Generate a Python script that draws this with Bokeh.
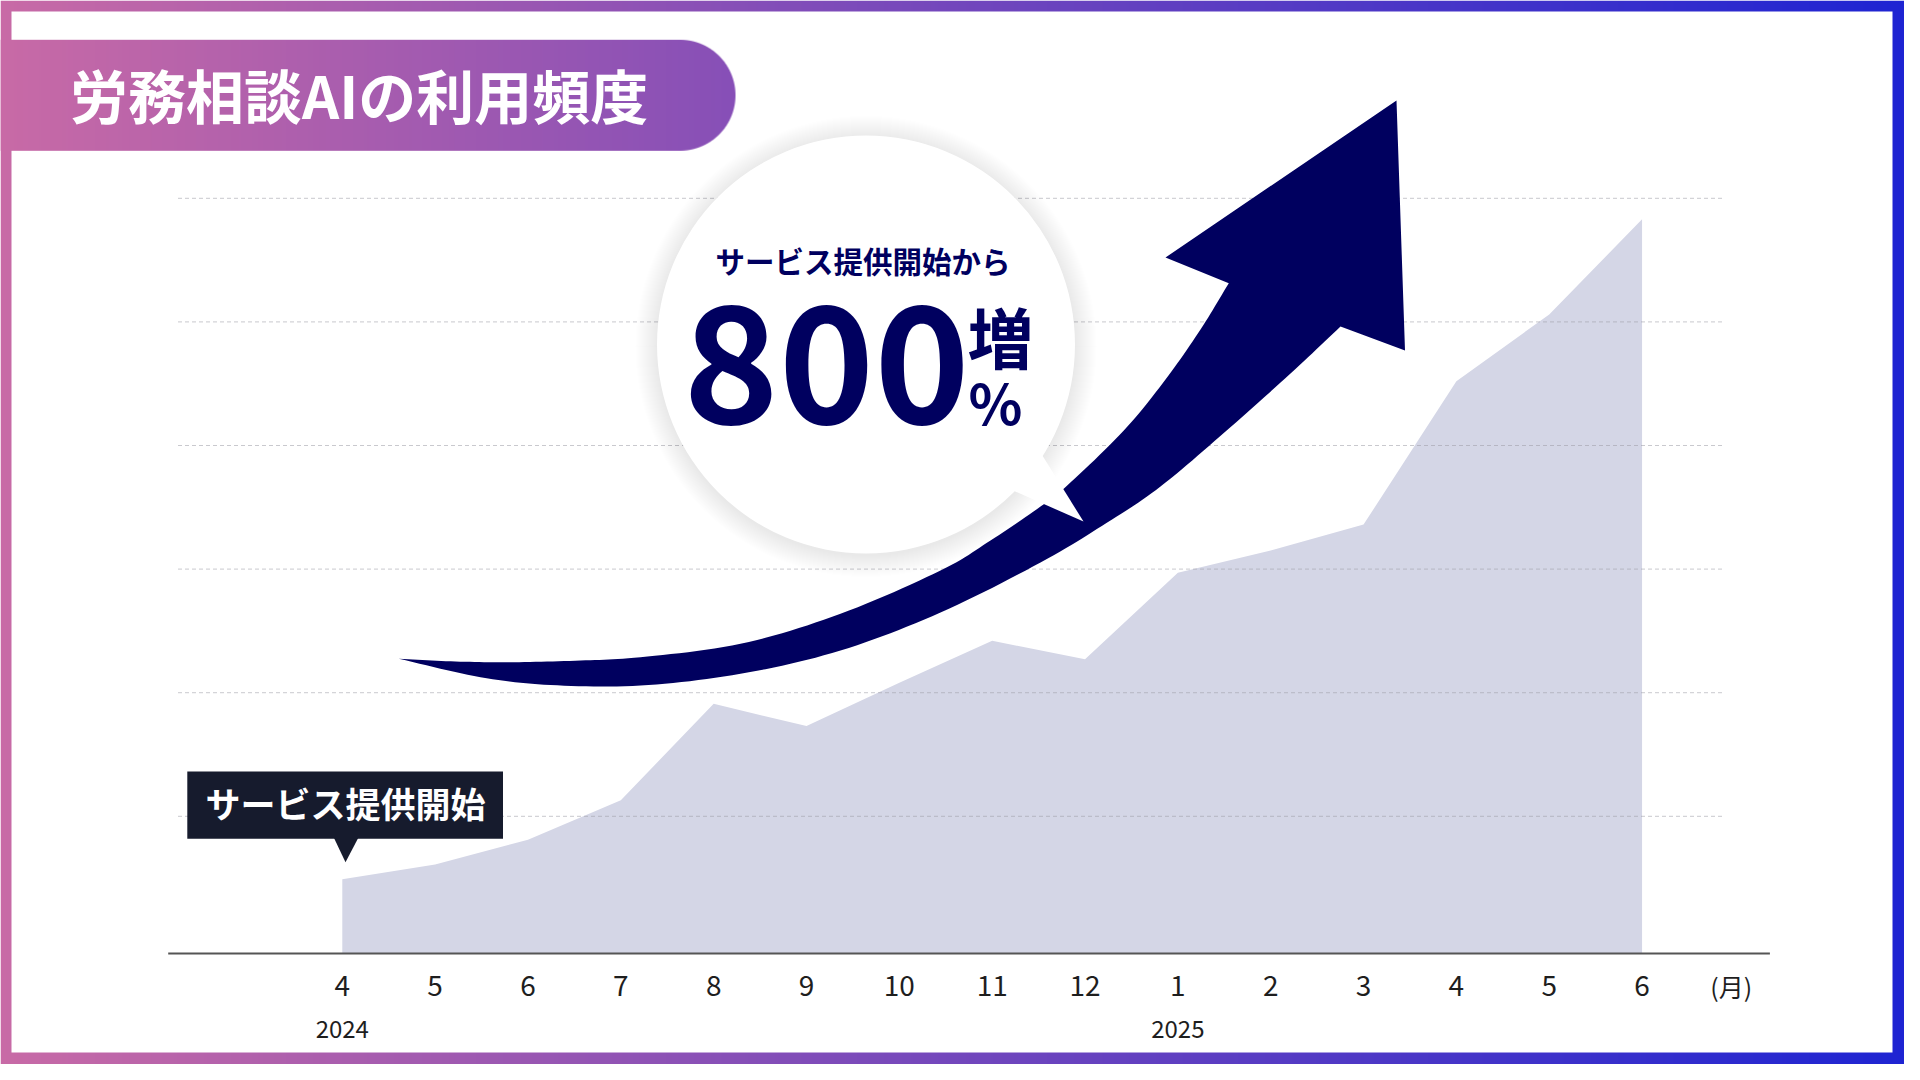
import numpy as np
from bokeh.plotting import figure
from bokeh.models import Range1d
from bokeh.core.properties import value
from bokeh.embed import file_html
from bokeh.resources import INLINE

# ---------------- data ----------------
title_text = "労務相談AIの利用頻度"
month_labels = ["4", "5", "6", "7", "8", "9", "10", "11", "12", "1", "2", "3", "4", "5", "6"]
year_labels = ["2024", "2025"]
year_index = [0, 9]
unit_label = "(月)"
usage = [60, 72, 92, 124, 202, 184, 219, 253, 238, 308, 326, 347, 463, 517, 594]
grid_levels = [111, 211, 311, 411, 511, 611]
callout_text = "サービス提供開始"
bubble_lead = "サービス提供開始から"
bubble_big = "800"
bubble_kanji = "増"
bubble_pct = "%"

# ---------------- layout (pixel space of the picture) ----------------
W, H = 1904, 1064
X0, DX = 341.8, 92.84          # x of first month, month spacing
BASE_Y, PPU = 953.0, 1.236     # y of zero line, pixels per value unit
NAVY = "#00005f"
FONT = value("Noto Sans CJK JP")


def py(Y):
    return 1080.0 - Y


idx = list(range(len(usage)))

p = figure(width=W, height=H, title=None,
           x_range=Range1d((0 - X0) / DX, (W - X0) / DX),
           y_range=Range1d((BASE_Y - H) / PPU, BASE_Y / PPU),
           output_backend="svg", toolbar_location=None, min_border=0,
           x_axis_location=None, y_axis_location=None)
p.outline_line_color = None
p.xgrid.visible = False
p.ygrid.visible = False
p.background_fill_color = "white"
p.border_fill_color = "white"
p.extra_x_ranges = {"px": Range1d(0, W)}
p.extra_y_ranges = {"py": Range1d(1080 - H, 1080)}

C0 = np.array([200.0, 106.0, 166.0])
C1 = np.array([30.0, 36.0, 210.0])


def grad_rgb(xs_screen):
    t = np.clip(xs_screen / float(W), 0, 1)[:, None]
    return C0[None, :] * (1 - t) + C1[None, :] * t


def to_rgba(rgb_row, alpha2d):
    h, w = alpha2d.shape
    img = np.empty((h, w), dtype=np.uint32)
    v = img.view(dtype=np.uint8).reshape((h, w, 4))
    for c in range(3):
        v[:, :, c] = np.round(rgb_row[None, :, c]).astype(np.uint8)
    v[:, :, 3] = np.round(alpha2d * 255).astype(np.uint8)
    return img


# --- gradient frame ---
xs = np.arange(W) + 0.5
frame_img = to_rgba(grad_rgb(xs), np.ones((2, W)))
p.image_rgba(image=[frame_img], x=0, y=py(H), dw=W, dh=H, x_range_name="px", y_range_name="py")
BT, BR_, BB = 11, 12, 12
p.quad(left=[BT], right=[W - BR_], bottom=[py(H - BB)], top=[py(BT)],
       fill_color="white", line_color=None, x_range_name="px", y_range_name="py")

# --- title banner (gradient pill) ---
bx0, bx1, by0, by1 = 0.0, 735.0, 39.3, 150.3
bw, bh = int(bx1 - bx0), int(round(by1 - by0))
rad = bh / 2.0
bxs = np.arange(bw) + bx0 + 0.5
bys = np.arange(bh) + 0.5
cx = bx1 - rad
XX, YY = np.meshgrid(bxs, bys)
d = np.sqrt((XX - cx) ** 2 + (YY - rad) ** 2)
alpha = np.where(XX <= cx, 1.0, np.clip(rad - d + 0.5, 0, 1))
banner_img = to_rgba(grad_rgb(bxs), alpha)
p.image_rgba(image=[banner_img], x=bx0, y=py(by1), dw=bw, dh=bh, x_range_name="px", y_range_name="py")
p.text(x=[358.7], y=[py(93)], text=[title_text], text_font=FONT, text_font_style="bold",
       text_font_size="58px", text_color="white", text_align="center", text_baseline="middle",
       x_range_name="px", y_range_name="py")

# --- area (data) ---
p.varea(x=idx, y1=[0] * len(usage), y2=usage, fill_color="#d4d6e6", fill_alpha=1.0)

# --- grid lines ---
n = len(grid_levels)
p.segment(x0=[177.5] * n, x1=[1722.0] * n, y0=grid_levels, y1=grid_levels,
          line_color="#9c9ca6", line_alpha=0.55, line_width=1, line_dash="4 3",
          x_range_name="px")

# --- x axis line and labels ---
p.segment(x0=[167.7], x1=[1769.4], y0=[0], y1=[0], line_color="#555555", line_width=2,
          x_range_name="px")
p.text(x=idx, y=[py(985)] * len(idx), text=month_labels, text_font=FONT,
       text_font_size="28px", text_color="#1e1e1e", text_align="center",
       text_baseline="middle", y_range_name="py")
p.text(x=year_index, y=[py(1028)] * len(year_index), text=year_labels, text_font=FONT,
       text_font_size="24px", text_color="#1e1e1e", text_align="center",
       text_baseline="middle", y_range_name="py")
p.text(x=[len(month_labels) - 0.04], y=[py(985)], text=[unit_label], text_font=FONT,
       text_font_size="25px", text_color="#1e1e1e", text_align="center",
       text_baseline="middle", y_range_name="py")

# --- callout "サービス提供開始" ---
p.quad(left=[186.8], right=[502.5], top=[py(771)], bottom=[py(838.3)],
       fill_color="#161b2d", line_color=None, x_range_name="px", y_range_name="py")
p.patch(x=[333.5, 357.7, 345.0], y=[py(837.5), py(837.5), py(861.7)],
        fill_color="#161b2d", line_color=None, x_range_name="px", y_range_name="py")
p.text(x=[345.0], y=[py(802)], text=[callout_text], text_font=FONT, text_font_style="bold",
       text_font_size="35px", text_color="white", text_align="center", text_baseline="middle",
       x_range_name="px", y_range_name="py")


# --- big arrow ---
def catmull(pts, n=12):
    pts = np.asarray(pts, dtype=float)
    ext = np.vstack([2 * pts[0] - pts[1], pts, 2 * pts[-1] - pts[-2]])
    out = []
    for i in range(1, len(ext) - 2):
        p0, p1, p2, p3 = ext[i - 1], ext[i], ext[i + 1], ext[i + 2]
        for t in np.linspace(0, 1, n, endpoint=False):
            t2, t3 = t * t, t * t * t
            out.append(0.5 * ((2 * p1) + (-p0 + p2) * t + (2 * p0 - 5 * p1 + 4 * p2 - p3) * t2
                              + (-p0 + 3 * p1 - 3 * p2 + p3) * t3))
    out.append(pts[-1])
    return np.array(out)


upper = [(398.3, 658.3), (455, 661.0), (513.3, 661.7), (580, 660.0), (640, 656.7),
         (740, 643.3), (840, 613.3), (940, 570.0), (990, 540.0), (1040, 506.0),
         (1066.7, 485.0), (1123.3, 430.0), (1165, 379.0), (1200, 329.0), (1228.3, 282.7)]
lower = [(398.3, 658.3), (480, 676.7), (550, 684.5), (640, 685.0), (740, 673.3),
         (840, 650.0), (940, 612.0), (1040, 562.0), (1106.7, 522.0), (1160, 486.0),
         (1225, 431.0), (1290, 373.0), (1340, 326.0)]
head = [(1165.0, 257.0), (1396.0, 100.0), (1404.5, 350.0)]
U = catmull(upper)
L = catmull(lower)[::-1]
poly = np.vstack([U, np.array(head), L])
p.patch(x=poly[:, 0], y=1080.0 - poly[:, 1], fill_color=NAVY, line_color=None,
        x_range_name="px", y_range_name="py")

# --- speech bubble ---
BCX, BCY, BR = 865.5, 344.0, 209.0
for k in range(22, 0, -1):
    p.circle(x=[BCX], y=[py(BCY + 2)], radius=BR + k, fill_color="#000000", fill_alpha=0.0045,
             line_color=None, x_range_name="px", y_range_name="py")
p.circle(x=[BCX], y=[py(BCY)], radius=BR, fill_color="white", line_color=None,
         x_range_name="px", y_range_name="py")
p.patch(x=[1008.0, 1040.0, 1083.0], y=[py(488.0), py(452.0), py(521.0)],
        fill_color="white", line_color=None, x_range_name="px", y_range_name="py")

p.text(x=[862.5], y=[py(259.5)], text=[bubble_lead], text_font=FONT, text_font_style="bold",
       text_font_size="29.5px", text_color=NAVY, text_align="center", text_baseline="middle",
       x_range_name="px", y_range_name="py")
p.text(x=[826.0], y=[py(363.0)], text=[bubble_big], text_font=FONT,
       text_font_style="bold", text_font_size="162px", text_color=NAVY, text_align="center",
       text_baseline="middle", x_range_name="px", y_range_name="py")
p.text(x=[1000.0], y=[py(334.0)], text=[bubble_kanji], text_font=FONT, text_font_style="bold",
       text_font_size="66px", text_color=NAVY, text_align="center", text_baseline="middle",
       x_range_name="px", y_range_name="py")
p.text(x=[995.0], y=[py(400.0)], text=[bubble_pct], text_font=FONT, text_font_style="bold",
       text_font_size="56px", text_color=NAVY, text_align="center", text_baseline="middle",
       x_range_name="px", y_range_name="py")

open("out.html", "w").write(file_html(p, INLINE))
